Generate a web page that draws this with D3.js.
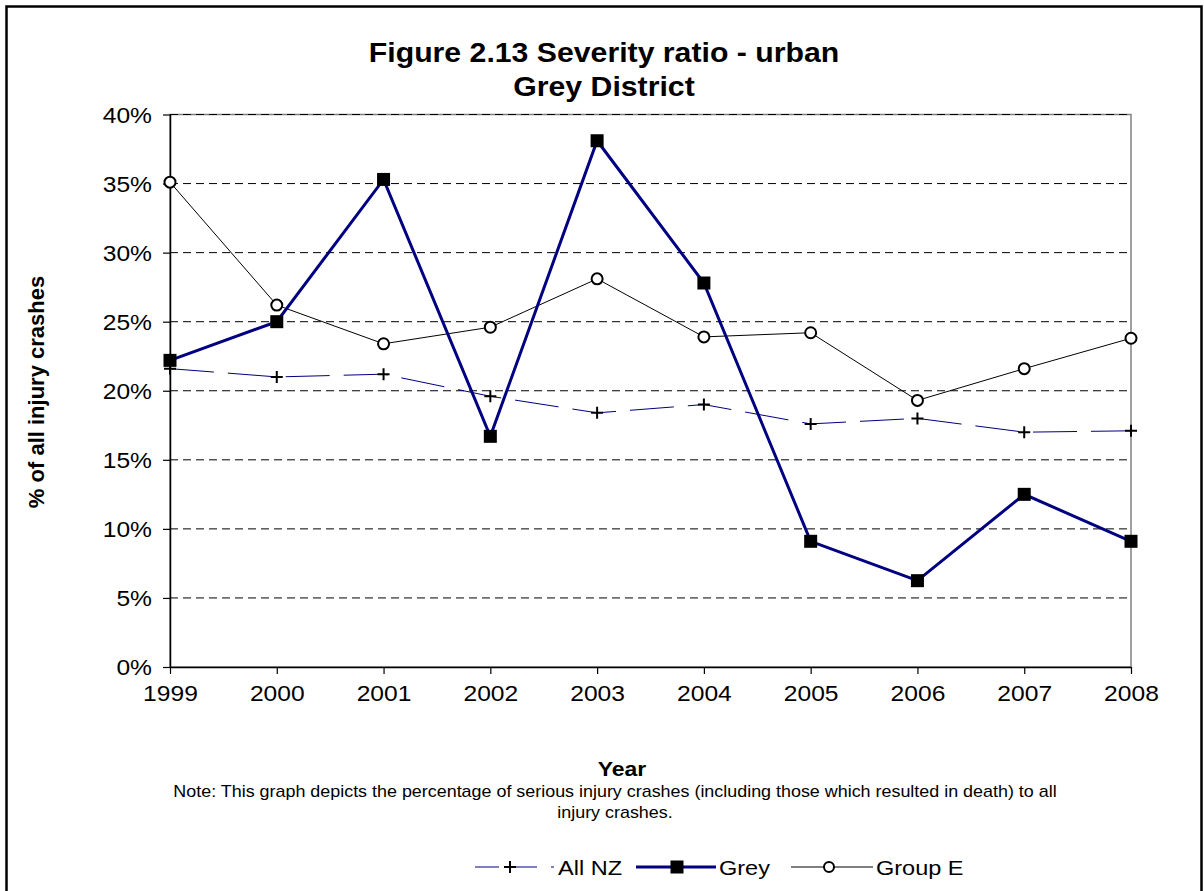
<!DOCTYPE html>
<html>
<head>
<meta charset="utf-8">
<script src="https://cdn.jsdelivr.net/npm/d3@7/dist/d3.min.js"></script>
<style>
   body { margin: 0; background: #fff; }
   svg text { font-family: "Liberation Sans", Arial, sans-serif; fill: #000; }
</style>
</head>
<body>
<div id="chart"></div>
<script>
// values
const aYear = ["1999", "2000", "2001", "2002", "2003", "2004", "2005", "2006", "2007", "2008"];
const aAllNZ = [0.216, 0.210, 0.212, 0.196, 0.184, 0.190, 0.176, 0.180, 0.170, 0.171];
const aGrey = [0.222, 0.250, 0.353, 0.167, 0.381, 0.278, 0.091, 0.0625, 0.125, 0.091];
const aGroupE = [0.351, 0.262, 0.234, 0.246, 0.281, 0.239, 0.242, 0.193, 0.216, 0.238];
const aYTick = [0, 0.05, 0.10, 0.15, 0.20, 0.25, 0.30, 0.35, 0.40];
const aTitle = ["Figure 2.13 Severity ratio - urban", "Grey District"];
const aNote = ["Note: This graph depicts the percentage of serious injury crashes (including those which resulted in death) to all", "injury crashes."];

const iWidth = 1204, iHeight = 891;
const oPlot = { left: 170, right: 1131, top: 114.5, bottom: 667 }; // plot area in pixels
const fStretch = 1.12; // the source picture is a bit wider than tall, text included

/**
 * Widen text horizontally like the source picture
 * @param d3Text selection of text elements
 */
function Stretch(d3Text) {
   d3Text.each(function () {
      const e = d3.select(this);
      const x = +e.attr("x") || 0, y = +e.attr("y") || 0;
      e.attr("x", null).attr("y", null)
         .attr("transform", `translate(${x},${y}) scale(${fStretch},1)`);
   });
}

let d3Svg = d3.select("#chart").append("svg")
   .attr("width", iWidth)
   .attr("height", iHeight);

// outer frame, bottom edge runs off the picture
d3Svg.append("rect")
   .attr("x", 6.5).attr("y", 6.5)
   .attr("width", 1195).attr("height", 920)
   .attr("fill", "none").attr("stroke", "#000").attr("stroke-width", 2.5);

const d3XScale = d3.scalePoint().domain(aYear).range([oPlot.left, oPlot.right]);
const d3YScale = d3.scaleLinear().domain([0, 0.4]).range([oPlot.bottom, oPlot.top]);

// title
d3Svg.append("g").selectAll("text").data(aTitle)
   .enter().append("text")
   .attr("x", 604)
   .attr("y", (s, i) => 62 + i * 34)
   .attr("text-anchor", "middle")
   .attr("font-size", "27px")
   .attr("font-weight", "bold")
   .text(s => s)
   .call(Stretch);

// plot border (grey) and dashed grid
d3Svg.append("rect")
   .attr("x", oPlot.left).attr("y", oPlot.top)
   .attr("width", oPlot.right - oPlot.left).attr("height", oPlot.bottom - oPlot.top)
   .attr("fill", "none").attr("stroke", "#808080").attr("stroke-width", 1.5);

d3Svg.append("g").selectAll("line").data(aYTick.filter(v => v > 0))
   .enter().append("line")
   .attr("x1", oPlot.left).attr("x2", oPlot.right)
   .attr("y1", v => d3YScale(v)).attr("y2", v => d3YScale(v))
   .attr("stroke", "#000").attr("stroke-width", 1)
   .attr("stroke-dasharray", "8,5");

// y axis
let gY = d3Svg.append("g")
   .attr("transform", `translate(${oPlot.left},0)`)
   .call(d3.axisLeft(d3YScale).tickValues(aYTick).tickFormat(d3.format(".0%")).tickSize(7).tickSizeOuter(0));
gY.select(".domain").attr("stroke", "#000").attr("stroke-width", 1.5);
gY.selectAll(".tick line").attr("stroke", "#000").attr("stroke-width", 1.2);
gY.selectAll(".tick text").attr("font-size", "22px").attr("font-family", null).attr("x", -18).attr("dy", "0.36em")
   .call(Stretch);

// x axis
let gX = d3Svg.append("g")
   .attr("transform", `translate(0,${oPlot.bottom})`)
   .call(d3.axisBottom(d3XScale).tickSize(7).tickSizeOuter(0));
gX.select(".domain").attr("stroke", "#000").attr("stroke-width", 1.5);
gX.selectAll(".tick line").attr("stroke", "#000").attr("stroke-width", 1.2);
gX.selectAll(".tick text").attr("font-size", "22px").attr("font-family", null).attr("y", 18).attr("dy", "0.71em")
   .call(Stretch);

// axis titles and note
d3Svg.append("text")
   .attr("transform", "translate(44,392) rotate(-90)")
   .attr("text-anchor", "middle")
   .attr("font-size", "22px").attr("font-weight", "bold")
   .text("% of all injury crashes");

d3Svg.append("text")
   .attr("x", 622).attr("y", 776)
   .attr("text-anchor", "middle")
   .attr("font-size", "20.5px").attr("font-weight", "bold")
   .text("Year")
   .call(Stretch);

d3Svg.append("g").selectAll("text").data(aNote)
   .enter().append("text")
   .attr("x", 615)
   .attr("y", (s, i) => 797 + i * 21)
   .attr("text-anchor", "middle")
   .attr("font-size", "16px")
   .text(s => s)
   .call(Stretch);

// series
const d3Line = d3.line().x((v, i) => d3XScale(aYear[i])).y(v => d3YScale(v));

d3Svg.append("path").datum(aAllNZ)
   .attr("d", d3Line)
   .attr("fill", "none").attr("stroke", "#000080").attr("stroke-width", 1)
   .attr("stroke-dasharray", "44,14");

d3Svg.append("path").datum(aGroupE)
   .attr("d", d3Line)
   .attr("fill", "none").attr("stroke", "#000").attr("stroke-width", 1);

d3Svg.append("path").datum(aGrey)
   .attr("d", d3Line)
   .attr("fill", "none").attr("stroke", "#000080").attr("stroke-width", 3);

function Plus(g, cx, cy, iSize) {
   g.append("path")
      .attr("d", `M${cx - iSize / 2},${cy}H${cx + iSize / 2}M${cx},${cy - iSize / 2}V${cy + iSize / 2}`)
      .attr("stroke", "#000").attr("stroke-width", 2).attr("fill", "none");
}

let gMark = d3Svg.append("g");
aAllNZ.forEach((v, i) => Plus(gMark, d3XScale(aYear[i]), d3YScale(v), 12));

gMark.selectAll("circle").data(aGroupE)
   .enter().append("circle")
   .attr("cx", (v, i) => d3XScale(aYear[i]))
   .attr("cy", v => d3YScale(v))
   .attr("r", 5.5)
   .attr("fill", "#fff").attr("stroke", "#000").attr("stroke-width", 2);

gMark.selectAll("rect").data(aGrey)
   .enter().append("rect")
   .attr("x", (v, i) => d3XScale(aYear[i]) - 6.5)
   .attr("y", v => d3YScale(v) - 6.5)
   .attr("width", 13).attr("height", 13)
   .attr("fill", "#000");

// legend
const iLegendY = 867;
let gLegend = d3Svg.append("g");
gLegend.append("line").attr("x1", 475).attr("x2", 554).attr("y1", iLegendY).attr("y2", iLegendY)
   .attr("stroke", "#000080").attr("stroke-width", 1).attr("stroke-dasharray", "24,14");
Plus(gLegend, 510, iLegendY, 12);
gLegend.append("text").attr("x", 558).attr("y", iLegendY + 8).attr("font-size", "21px").text("All NZ");

gLegend.append("line").attr("x1", 636).attr("x2", 716).attr("y1", iLegendY).attr("y2", iLegendY)
   .attr("stroke", "#000080").attr("stroke-width", 3);
gLegend.append("rect").attr("x", 670.5).attr("y", iLegendY - 6.5).attr("width", 13).attr("height", 13).attr("fill", "#000");
gLegend.append("text").attr("x", 719).attr("y", iLegendY + 8).attr("font-size", "21px").text("Grey");

gLegend.append("line").attr("x1", 791).attr("x2", 873).attr("y1", iLegendY).attr("y2", iLegendY)
   .attr("stroke", "#000").attr("stroke-width", 1);
gLegend.append("circle").attr("cx", 829).attr("cy", iLegendY).attr("r", 5)
   .attr("fill", "#fff").attr("stroke", "#000").attr("stroke-width", 2);
gLegend.append("text").attr("x", 876).attr("y", iLegendY + 8).attr("font-size", "21px").text("Group E");
gLegend.selectAll("text").call(Stretch);
</script>
</body>
</html>
